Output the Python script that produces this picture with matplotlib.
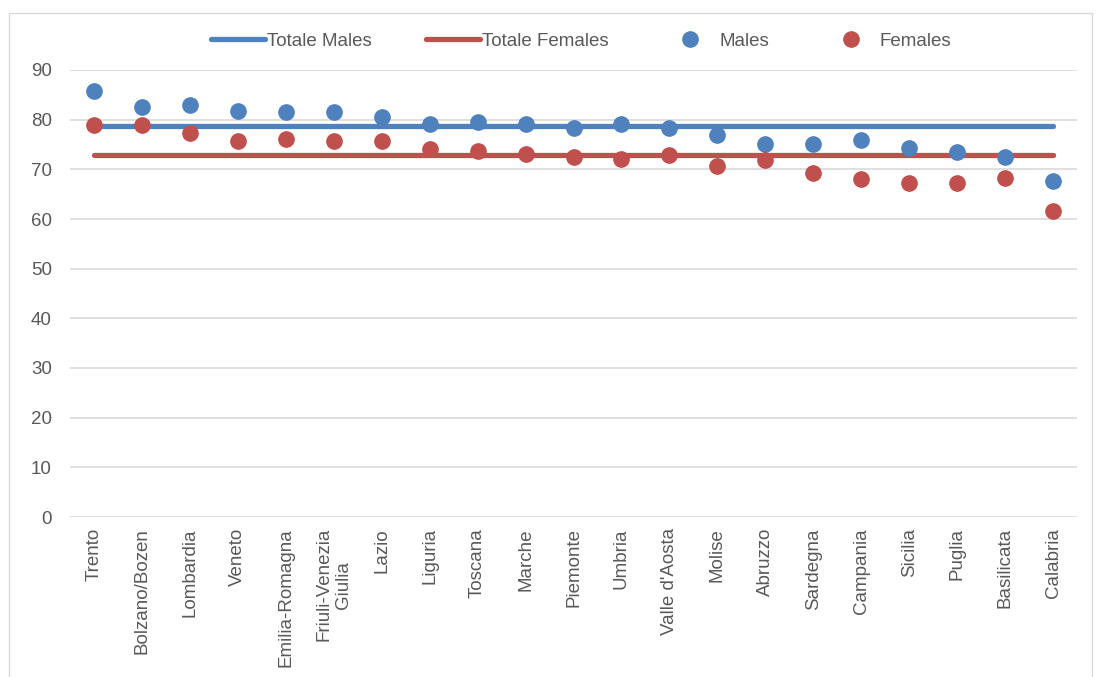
import matplotlib
matplotlib.use("Agg")
import matplotlib.pyplot as plt
from matplotlib.patches import Rectangle

plt.rcParams['font.family'] = ['Liberation Sans', 'DejaVu Sans']

# Data
regions = ['Trento', 'Bolzano/Bozen', 'Lombardia', 'Veneto', 'Emilia-Romagna',
           'Friuli-Venezia\nGiulia', 'Lazio', 'Liguria', 'Toscana', 'Marche',
           'Piemonte', 'Umbria', "Valle d'Aosta", 'Molise', 'Abruzzo',
           'Sardegna', 'Campania', 'Sicilia', 'Puglia', 'Basilicata', 'Calabria']
males = [85.7, 82.6, 83.0, 81.8, 81.6, 81.6, 80.5, 79.1, 79.5, 79.2,
         78.4, 79.2, 78.3, 76.9, 75.2, 75.2, 75.9, 74.2, 73.5, 72.5, 67.7]
females = [79.0, 79.0, 77.4, 75.8, 76.1, 75.8, 75.8, 74.1, 73.7, 73.1,
           72.5, 72.1, 72.8, 70.6, 71.9, 69.2, 68.0, 67.3, 67.3, 68.3, 61.6]
total_males = 78.8
total_females = 72.8
yticks = [0, 10, 20, 30, 40, 50, 60, 70, 80, 90]

blue = '#4F81BD'
red = '#C0504D'
grid = '#D9D9D9'
text = '#595959'

fig = plt.figure(figsize=(11.03, 6.77), dpi=100)
ax = fig.add_axes([70 / 1103, 1 - 517 / 677, 1007 / 1103, 447 / 677])

# outer chart border
fig.patches.append(Rectangle((9 / 1103, -0.05), 1083 / 1103, 1.05 - 13 / 677,
                             transform=fig.transFigure, fill=False,
                             edgecolor=grid, linewidth=1))

x = list(range(len(regions)))
ax.plot(x, [total_males] * len(x), color=blue, linewidth=3.8,
        solid_capstyle='round', label='Totale Males', zorder=2)
ax.plot(x, [total_females] * len(x), color=red, linewidth=3.8,
        solid_capstyle='round', label='Totale Females', zorder=2)
ax.plot(x, males, 'o', color=blue, markersize=11, linestyle='none',
        label='Males', zorder=3)
ax.plot(x, females, 'o', color=red, markersize=11, linestyle='none',
        label='Females', zorder=3)

ax.set_xlim(-0.5, len(x) - 0.5)
ax.set_ylim(0, 90)
ax.set_yticks(yticks)
ax.set_xticks(x)
ax.set_xticklabels(regions, rotation=90, va='top', ha='center',
                   multialignment='center')
ax.tick_params(axis='both', length=0, labelsize=13.5, labelcolor=text)
ax.tick_params(axis='y', pad=13)
ax.tick_params(axis='x', pad=8)
ax.yaxis.grid(True, color=grid, linewidth=1.2)
ax.set_axisbelow(True)
for s in ax.spines.values():
    s.set_visible(False)

fig.legend(loc='center', bbox_to_anchor=(581 / 1103, 1 - 41 / 677), ncol=4,
           frameon=False, fontsize=13.5, labelcolor=text, handlelength=2.9,
           handletextpad=0.1, columnspacing=2.9)

fig.savefig('out.png', dpi=100)
